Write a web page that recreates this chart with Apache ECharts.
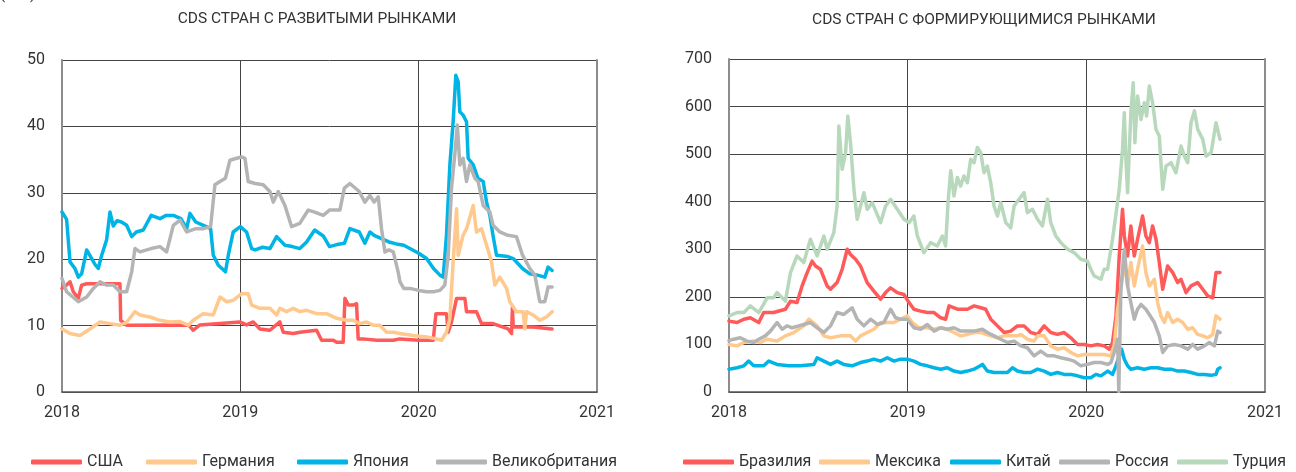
<!DOCTYPE html>
<html>
<head>
<meta charset="utf-8">
<script src="https://cdn.jsdelivr.net/npm/echarts@6/dist/echarts.min.js"></script>
<style>
  html, body { margin: 0; padding: 0; background: #fff; }
  #chart { width: 1296px; height: 472px; }
</style>
</head>
<body>
<div id="chart"></div>
<script>
  // x = месяцы от января 2018, y = б.п.
  const yearLabels = ['2018', '2019', '2020', '2021'];

  // развитые рынки
  const usa = [[0,15.6],[0.31,16.1],[0.54,16.6],[0.76,15.1],[1.1,14.1],[1.32,16.1],[1.66,16.3],[3.9,16.3],[3.95,10.8],[4.35,10.05],[8.5,10.1],[8.83,9.3],[9.28,10.1],[11.97,10.55],[12.42,10.1],[12.87,10.55],[13.32,9.5],[13.99,9.3],[14.66,10.55],[14.89,9.0],[15.56,8.8],[16.01,9.0],[17.13,9.3],[17.47,7.8],[18.25,7.8],[18.48,7.5],[18.92,7.5],[19.04,14.1],[19.26,13.1],[19.6,13.1],[19.82,13.3],[19.93,8.0],[20.27,8.0],[21.17,7.8],[22.29,7.8],[22.74,8.0],[24.0,7.8],[24.98,7.8],[25.16,11.8],[25.87,11.8],[25.99,9.0],[26.21,10.55],[26.55,14.1],[27.11,14.1],[27.22,12.1],[27.89,12.1],[28.23,10.3],[29.0,10.3],[30.02,9.5],[30.25,8.8],[30.31,12.8],[30.36,9.8],[31.7,9.8],[32.98,9.5]];
  const germany = [[0,9.5],[0.54,8.8],[1.21,8.5],[1.88,9.5],[2.56,10.55],[3.23,10.3],[3.9,10.05],[4.35,10.5],[4.91,12.1],[5.25,11.6],[5.92,11.3],[6.59,10.8],[7.26,10.55],[7.94,10.6],[8.5,10.05],[8.83,10.8],[9.51,11.8],[10.18,11.6],[10.63,14.3],[11.08,13.6],[11.52,13.8],[12.09,14.8],[12.53,14.8],[12.76,13.1],[13.32,12.6],[13.99,12.6],[14.44,11.6],[14.66,12.6],[15.11,12.1],[15.56,12.6],[16.01,12.1],[16.46,12.3],[17.13,11.8],[17.8,11.8],[18.48,11.1],[19.15,10.8],[19.6,10.8],[20.04,10.3],[20.49,10.55],[20.94,10.05],[21.39,10.05],[21.84,9.0],[22.29,9.0],[22.74,8.8],[23.63,8.5],[24.53,8.3],[25.2,8.0],[25.54,7.8],[25.87,9.0],[26.1,11.1],[26.32,19.6],[26.55,27.6],[26.66,20.6],[26.99,23.6],[27.22,24.6],[27.67,28.1],[27.89,24.1],[28.23,24.6],[28.57,22.1],[28.9,19.6],[29.13,16.1],[29.46,17.3],[29.91,15.6],[30.13,13.6],[30.58,12.1],[31.03,12.1],[31.14,9.5],[31.26,12.1],[31.7,11.6],[32.15,10.8],[32.6,11.3],[32.98,12.1]];
  const japan = [[0,27.1],[0.31,26],[0.54,19.6],[0.87,18.6],[1.1,17.3],[1.32,17.8],[1.66,21.4],[2.0,20.1],[2.22,19.2],[2.44,18.6],[2.67,20.6],[3.0,22.9],[3.23,27.1],[3.45,25],[3.7,25.8],[4.0,25.6],[4.35,25.1],[4.69,23.4],[5.0,24.1],[5.47,24.4],[6.0,26.6],[6.59,26.1],[7.0,26.6],[7.49,26.6],[8.0,26.1],[8.39,24.6],[8.61,26.9],[9.0,25.6],[9.51,25.1],[10.0,24.6],[10.18,20.6],[10.52,19.1],[11.0,18.1],[11.19,20.6],[11.52,24.1],[12.0,24.9],[12.42,24.1],[12.76,21.6],[13.0,21.4],[13.5,21.8],[13.99,21.6],[14.44,23.4],[15.0,22.1],[15.5,21.9],[16.0,21.6],[16.46,22.6],[17.0,24.4],[17.58,23.5],[18.0,21.9],[18.5,22.2],[19.0,22.4],[19.37,24.6],[20.0,24.1],[20.38,22.4],[20.72,24.1],[21.0,23.6],[21.5,23.1],[22.0,22.6],[22.5,22.3],[23.0,22.1],[23.41,21.6],[24.0,20.9],[24.53,20.1],[25.0,18.6],[25.43,17.6],[25.65,17.3],[25.87,23.6],[26.1,34.2],[26.32,40.7],[26.5,47.7],[26.66,46.7],[26.77,42.2],[26.99,41.7],[27.22,40.7],[27.33,35.2],[27.67,34.2],[27.98,32.2],[28.34,31.7],[28.57,28.6],[28.79,26.6],[29.0,23.6],[29.24,20.6],[30.0,20.4],[30.36,20.1],[30.99,18.6],[31.48,17.8],[32.0,17.6],[32.49,17.3],[32.71,18.8],[32.98,18.3]];
  const uk = [[0,17.1],[0.31,15.1],[1.1,13.6],[1.66,14.3],[2.11,15.6],[2.56,16.6],[3.0,16.1],[3.45,16.1],[3.9,15.1],[4.35,15.1],[4.69,18.1],[4.91,21.6],[5.25,21.1],[6.0,21.6],[6.59,21.9],[7.04,21.1],[7.49,25.1],[7.94,25.9],[8.39,24.1],[9.0,24.6],[9.51,24.6],[10.0,24.9],[10.29,31.2],[10.63,31.7],[11.0,32.2],[11.3,34.9],[11.75,35.2],[12.09,35.4],[12.31,35.2],[12.53,31.7],[13.0,31.4],[13.54,31.2],[13.99,30.2],[14.22,28.6],[14.55,30.2],[15.0,28.1],[15.45,24.9],[16.0,25.4],[16.57,27.4],[17.0,27.1],[17.58,26.6],[18.0,27.4],[18.7,27.4],[19.0,30.7],[19.37,31.4],[20.0,30.2],[20.38,28.6],[20.72,29.6],[21.0,28.6],[21.28,29.4],[21.5,24.6],[21.73,21.1],[22.0,21.4],[22.29,21.1],[22.62,18.1],[22.74,16.6],[23.0,15.6],[23.41,15.6],[24.0,15.3],[24.53,15.1],[25.0,15.1],[25.43,15.3],[25.76,16.1],[25.99,20.6],[26.21,30.7],[26.43,35.7],[26.6,40.2],[26.77,34.2],[26.99,35.2],[27.22,31.7],[27.44,34.2],[27.78,32.2],[28.0,31.7],[28.34,28.1],[28.79,27.1],[29.01,25.1],[29.46,24.1],[30.0,23.6],[30.58,23.4],[30.99,20.6],[31.48,18.6],[31.82,17.6],[32.15,13.6],[32.49,13.6],[32.71,15.8],[32.98,15.8]];

  // формирующиеся рынки
  const brazil = [[0,149],[0.54,146],[1.0,153],[1.43,156],[2.0,146],[2.33,167],[3.0,167],[3.79,174],[4.13,191],[4.57,188],[4.91,223],[5.25,251],[5.58,275],[5.81,265],[6.14,258],[6.59,223],[6.82,216],[7.26,230],[7.6,258],[7.94,300],[8.16,289],[8.5,279],[8.83,265],[9.28,230],[9.73,212],[10.18,195],[10.52,209],[10.85,219],[11.3,209],[11.75,205],[12.09,188],[12.42,174],[12.87,170],[13.32,167],[13.77,167],[14.22,156],[14.55,153],[14.78,181],[15.34,174],[16.01,174],[16.46,181],[16.91,177],[17.24,174],[17.58,153],[18.03,139],[18.48,125],[18.92,128],[19.37,139],[19.82,139],[20.27,125],[20.72,121],[21.17,139],[21.61,125],[22.06,121],[22.51,125],[22.96,114],[23.41,100],[23.86,100],[24.3,97],[24.75,100],[25.2,97],[25.54,90],[25.76,104],[25.99,160],[26.21,286],[26.43,384],[26.55,328],[26.77,286],[26.99,349],[27.22,286],[27.44,321],[27.78,370],[28.0,328],[28.23,314],[28.45,349],[28.68,321],[28.9,272],[29.13,216],[29.46,265],[29.8,251],[30.13,230],[30.36,237],[30.7,209],[31.03,223],[31.48,230],[31.82,216],[32.15,202],[32.49,198],[32.71,251],[32.98,251]];
  const mexico = [[0,100],[0.54,97],[1.0,104],[1.66,107],[2.11,104],[2.56,111],[3.23,107],[3.79,118],[4.35,125],[5.02,139],[5.36,153],[5.92,139],[6.37,118],[6.82,114],[7.49,118],[8.16,118],[8.5,107],[8.83,118],[9.28,125],[9.73,132],[10.18,146],[10.63,146],[11.08,146],[11.52,153],[11.97,160],[12.31,146],[12.76,135],[13.32,135],[13.77,132],[14.22,135],[14.66,132],[15.11,125],[15.56,118],[16.01,121],[16.46,125],[16.91,125],[17.58,118],[18.03,114],[18.48,118],[18.92,118],[19.37,118],[19.6,121],[20.04,111],[20.49,107],[20.72,118],[21.17,118],[21.61,97],[22.06,90],[22.51,93],[22.96,83],[23.41,76],[23.86,79],[24.3,79],[24.75,79],[25.2,79],[25.65,76],[25.87,97],[26.1,174],[26.32,216],[26.55,272],[26.77,223],[26.99,272],[27.22,223],[27.44,258],[27.78,307],[28.0,251],[28.23,223],[28.57,237],[28.79,188],[29.01,160],[29.24,146],[29.46,167],[29.8,146],[30.13,153],[30.47,146],[30.81,132],[31.14,135],[31.48,121],[31.82,118],[32.15,114],[32.49,121],[32.71,160],[32.98,153]];
  const china = [[0,48],[0.54,51],[1.0,55],[1.32,65],[1.66,55],[2.33,55],[2.67,65],[3.23,58],[4.0,55],[4.8,55],[5.7,58],[5.92,72],[6.37,65],[6.82,58],[7.26,65],[7.71,58],[8.27,55],[8.83,62],[9.28,65],[9.73,69],[10.18,65],[10.63,72],[11.08,65],[11.52,69],[11.97,69],[12.42,65],[12.87,58],[13.32,55],[13.77,51],[14.22,48],[14.66,51],[15.11,44],[15.56,41],[16.01,44],[16.46,48],[17.02,58],[17.35,44],[17.8,41],[18.7,41],[19.04,51],[19.37,44],[19.82,41],[20.27,41],[20.72,48],[21.17,44],[21.61,37],[22.06,41],[22.51,37],[22.96,37],[23.41,34],[23.86,30],[24.3,30],[24.64,37],[24.98,34],[25.43,44],[25.76,37],[25.99,55],[26.21,76],[26.37,90],[26.55,69],[26.77,55],[26.99,48],[27.44,51],[27.89,48],[28.34,51],[28.79,51],[29.24,48],[29.69,48],[30.13,44],[30.58,44],[31.03,41],[31.48,37],[31.93,37],[32.38,35],[32.71,37],[32.83,48],[32.98,51]];
  const russia = [[0,108],[0.31,111],[0.76,114],[1.21,107],[1.66,104],[2.0,111],[2.44,118],[2.78,128],[3.23,146],[3.57,132],[3.9,139],[4.24,135],[4.69,139],[5.02,142],[5.47,146],[5.92,135],[6.37,125],[6.82,139],[7.26,167],[7.71,163],[8.27,177],[8.61,153],[9.06,139],[9.51,153],[9.96,142],[10.4,146],[10.85,174],[11.19,156],[11.52,153],[11.97,153],[12.42,135],[12.87,132],[13.32,142],[13.77,128],[14.22,135],[14.66,132],[15.11,135],[15.56,128],[16.01,128],[16.46,128],[17.02,132],[17.35,125],[17.8,118],[18.25,111],[18.7,104],[19.15,107],[19.6,97],[20.04,93],[20.49,76],[20.94,86],[21.39,76],[21.84,76],[22.29,72],[22.74,69],[23.18,65],[23.63,55],[24.08,58],[24.53,62],[24.98,62],[25.43,58],[25.65,62],[25.87,83],[26.1,111],[26.18,1],[26.32,216],[26.55,300],[26.77,223],[26.99,188],[27.22,153],[27.44,174],[27.67,184],[28.0,174],[28.23,163],[28.57,146],[28.9,118],[29.13,83],[29.46,97],[29.91,100],[30.36,97],[30.81,90],[31.14,100],[31.48,90],[31.93,97],[32.26,104],[32.6,97],[32.83,128],[32.98,125]];
  const turkey = [[0,160],[0.54,167],[1.0,167],[1.43,181],[2.0,167],[2.56,198],[3.0,198],[3.23,209],[3.79,191],[4.13,251],[4.57,286],[5.02,272],[5.47,321],[5.92,286],[6.37,328],[6.59,300],[7.04,335],[7.26,391],[7.38,559],[7.6,468],[7.83,503],[7.98,580],[8.16,524],[8.39,426],[8.61,363],[9.06,419],[9.28,384],[9.62,398],[10.18,356],[10.52,391],[10.85,405],[11.3,384],[11.75,363],[12.09,356],[12.42,370],[12.65,328],[13.09,293],[13.54,314],[13.99,307],[14.33,328],[14.55,307],[14.71,398],[14.89,465],[15.11,412],[15.34,451],[15.56,433],[15.78,454],[16.01,440],[16.23,489],[16.46,482],[16.68,514],[16.91,503],[17.13,461],[17.35,475],[17.58,440],[17.8,391],[18.03,370],[18.25,398],[18.59,356],[18.92,345],[19.15,391],[19.48,405],[19.82,419],[20.04,377],[20.38,384],[20.72,363],[21.05,349],[21.39,405],[21.61,356],[21.95,328],[22.29,314],[22.74,300],[23.18,293],[23.63,279],[24.08,275],[24.3,258],[24.53,244],[24.98,237],[25.2,258],[25.43,258],[25.76,321],[25.99,374],[26.21,426],[26.43,510],[26.55,587],[26.66,489],[26.77,419],[26.99,587],[27.15,650],[27.26,524],[27.44,622],[27.67,573],[27.89,608],[28.05,580],[28.23,643],[28.45,608],[28.68,552],[28.9,538],[29.01,482],[29.13,426],[29.35,475],[29.69,482],[30.02,461],[30.36,517],[30.58,496],[30.81,482],[31.03,566],[31.26,591],[31.48,552],[31.82,531],[32.04,496],[32.38,503],[32.71,566],[32.98,531]];

  const FONT = "Roboto, 'Liberation Sans', sans-serif";
  const TXT = '#333333';
  const GRIDLINE = '#454545';

  function xAxisFor(gi) {
    return {
      type: 'value', gridIndex: gi, min: 0, max: 36, interval: 12,
      axisLine: { show: true, onZero: false, lineStyle: { color: '#555', width: 1.5 } },
      axisTick: { show: false },
      splitLine: { show: true, lineStyle: { color: GRIDLINE, width: 1 } },
      axisLabel: {
        margin: 13, fontFamily: FONT, fontSize: 16, color: TXT,
        formatter: (v) => yearLabels[Math.round(v / 12)],
      },
    };
  }

  function yAxisFor(gi, max, interval) {
    return [
      {
        type: 'value', gridIndex: gi, min: 0, max: max, interval: interval,
        axisLine: { show: true, lineStyle: { color: '#8c8c8c', width: 2 } },
        axisTick: { show: false },
        splitLine: { show: true, lineStyle: { color: GRIDLINE, width: 1 } },
        axisLabel: { margin: 17, fontFamily: FONT, fontSize: 16, color: TXT },
      },
      {
        // правая рамка
        type: 'value', gridIndex: gi, position: 'right', min: 0, max: max,
        axisLine: { show: true, lineStyle: { color: '#8c8c8c', width: 2 } },
        axisTick: { show: false }, axisLabel: { show: false }, splitLine: { show: false },
      },
    ];
  }

  function line(name, data, color, gi) {
    return {
      name: name, type: 'line', data: data,
      xAxisIndex: gi, yAxisIndex: gi * 2,
      symbol: 'none', showSymbol: false, smooth: false,
      lineStyle: { color: color, width: 3.5, cap: 'round', join: 'round' },
      itemStyle: { color: color },
      emphasis: { disabled: true },
    };
  }

  // отдельная легенда на каждый элемент, чтобы совпали позиции
  function legendItem(name, left) {
    return {
      data: [name], left: left, top: 454, padding: 0,
      icon: 'roundRect', itemWidth: 51, itemHeight: 5, itemGap: 0,
      selectedMode: false,
      textStyle: { fontFamily: FONT, fontSize: 16, color: TXT },
    };
  }

  const chart = echarts.init(document.getElementById('chart'), null, { renderer: 'canvas' });

  chart.setOption({
    backgroundColor: '#ffffff',
    animation: false,
    grid: [
      { left: 62, top: 60, width: 535, height: 332 },
      { left: 729, top: 59, width: 536, height: 333 },
    ],
    xAxis: [xAxisFor(0), xAxisFor(1)],
    yAxis: [...yAxisFor(0, 50, 10), ...yAxisFor(1, 700, 100)],
    legend: [
      legendItem('США', 31),
      legendItem('Германия', 146),
      legendItem('Япония', 297),
      legendItem('Великобритания', 436),
      legendItem('Бразилия', 683),
      legendItem('Мексика', 819),
      legendItem('Китай', 950),
      legendItem('Россия', 1059),
      legendItem('Турция', 1177),
    ],
    graphic: [
      {
        type: 'text', x: 317, y: 19,
        style: { text: 'CDS СТРАН С РАЗВИТЫМИ РЫНКАМИ', font: "15.5px " + FONT, fill: TXT, align: 'center', verticalAlign: 'middle' },
      },
      {
        type: 'text', x: 984, y: 20,
        style: { text: 'CDS СТРАН С ФОРМИРУЮЩИМИСЯ РЫНКАМИ', font: "15.5px " + FONT, fill: TXT, align: 'center', verticalAlign: 'middle' },
      },
      {
        type: 'text', x: 0, y: -5,
        style: { text: '(б.п.)', font: "15px " + FONT, fill: TXT, align: 'left', verticalAlign: 'middle' },
      },
    ],
    series: [
      line('США', usa, '#ff5a5a', 0),
      line('Германия', germany, '#ffc88c', 0),
      line('Япония', japan, '#00b4e6', 0),
      line('Великобритания', uk, '#b4b4b4', 0),
      line('Бразилия', brazil, '#ff5a5a', 1),
      line('Мексика', mexico, '#ffc88c', 1),
      line('Китай', china, '#00b4e6', 1),
      line('Россия', russia, '#b4b4b4', 1),
      line('Турция', turkey, '#b8d8bc', 1),
    ],
  });
</script>
</body>
</html>
